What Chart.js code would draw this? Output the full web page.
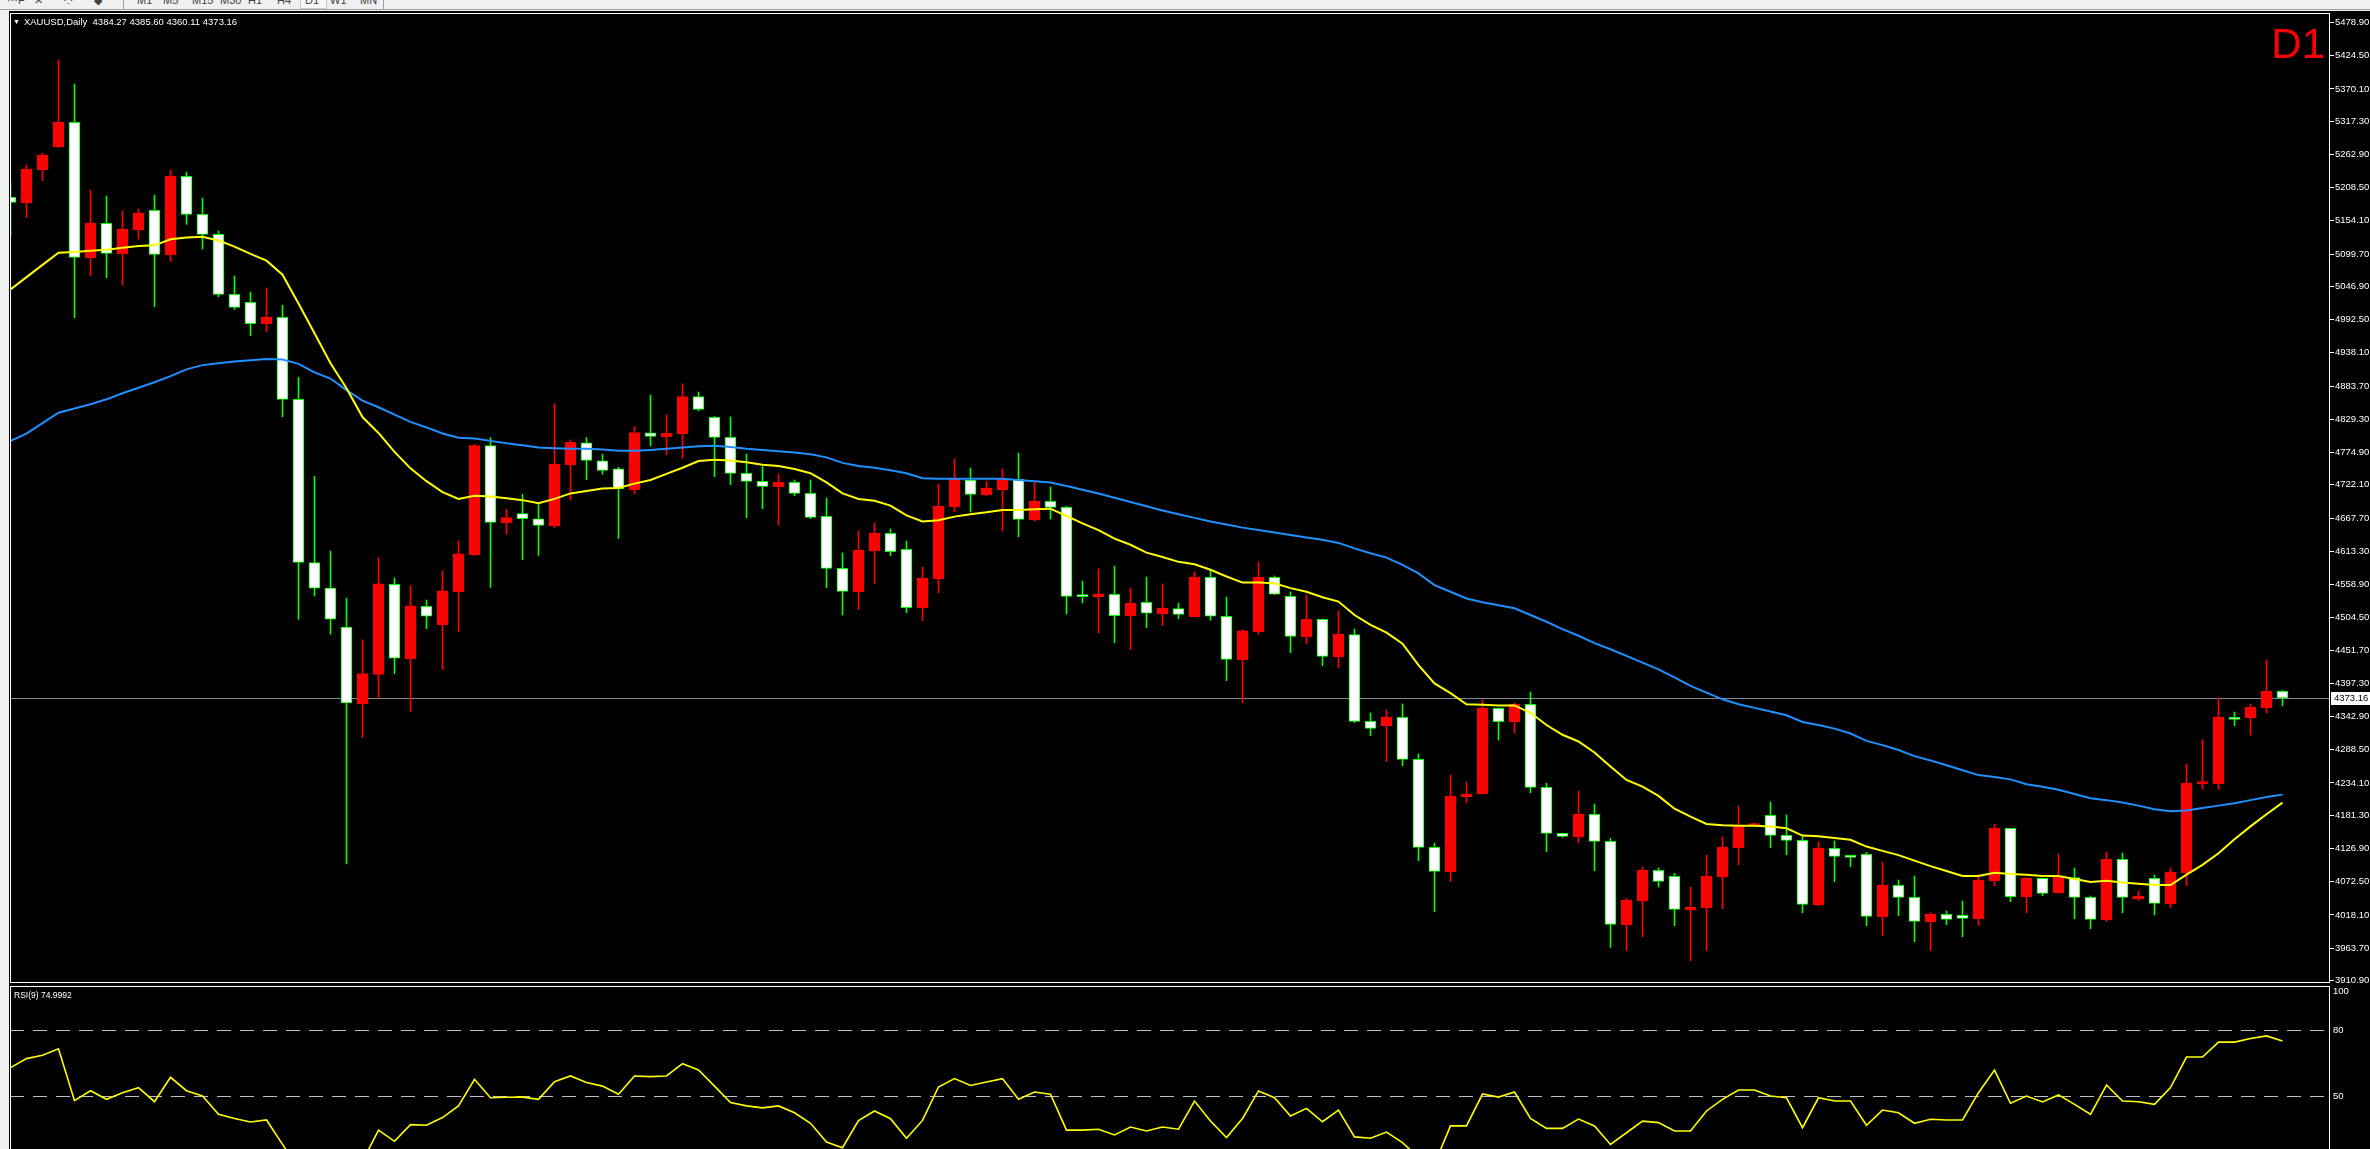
<!DOCTYPE html>
<html>
<head>
<meta charset="utf-8">
<title>XAUUSD,Daily</title>
<script src="https://cdn.jsdelivr.net/npm/chart.js@4.4.1/dist/chart.umd.min.js"></script>
<style>
  html, body { margin:0; padding:0; width:2370px; height:1149px; overflow:hidden; background:#f0f0f0;
               font-family:"Liberation Sans", Arial, sans-serif; }
  #toolbar { position:absolute; left:0; top:0; width:2370px; height:9px; overflow:hidden;
             background:#f0f0f0; border-bottom:1px solid #a0a0a0; }
  #toolbar span { position:absolute; top:-6px; font-size:11px; color:#404040; }
  #toolbar .pressed { top:-4px; height:11px; border:1px solid #c8c8c8; background:#f8f8f8; }
  #toolbar .sep { top:0; width:1px; height:9px; background:#a0a0a0; }
  #screen { position:absolute; left:9px; top:11px; width:2361px; height:1138px; background:#000; }
  #priceBox { position:absolute; left:10px; top:0; width:2360px; height:990px; }
  #rsiBox   { position:absolute; left:10px; top:976px; width:2360px; height:240px; }
  .txt { position:absolute; color:#ffffff; white-space:pre; }
  #header { left:13px; top:16px; font-size:9.5px; line-height:12px; }
  #header .tri { font-size:7px; vertical-align:1px; margin-right:4px; }
  #period { right:45px; top:23px; font-size:42px; line-height:42px; color:#ff0000; }
  #rsiTitle { left:14px; top:990px; font-size:8.5px; line-height:10px; }
</style>
</head>
<body>
<div id="toolbar">
  <span style="left:7px">···F</span>
  <span style="left:34px">✕</span>
  <span style="left:63px">·:·</span>
  <span style="left:94px">◆</span>
  <span class="sep" style="left:123px"></span>
  <span style="left:137px">M1</span>
  <span style="left:163px">M5</span>
  <span style="left:192px">M15</span>
  <span style="left:220px">M30</span>
  <span style="left:248px">H1</span>
  <span style="left:277px">H4</span>
  <span class="pressed" style="left:300px;width:25px"></span>
  <span style="left:305px">D1</span>
  <span style="left:330px">W1</span>
  <span style="left:360px">MN</span>
  <span class="sep" style="left:383px"></span>
</div>
<div id="screen"></div>
<div id="priceBox"><canvas id="priceChart"></canvas></div>
<div id="rsiBox"><canvas id="rsiChart"></canvas></div>
<div id="header" class="txt"></div>
<div id="period" class="txt">D1</div>
<div id="rsiTitle" class="txt">RSI(9) 74.9992</div>

<script>
// ── Daily candles (index 0 = oldest visible bar) ─────────────
const opens = [
  5192.6, 5183.3, 5237.9, 5275.0, 5315.3, 5093.8, 5150.0, 5100.4, 5139.7, 5171.3,
  5098.2, 5226.9, 5164.8, 5132.0, 5033.8, 5020.7, 4985.8, 4996.2, 4861.9, 4594.9,
  4553.0, 4489.1, 4364.0, 4411.7, 4559.4, 4437.5, 4523.3, 4493.0, 4547.2, 4607.8,
  4786.4, 4660.0, 4674.9, 4666.5, 4654.9, 4754.8, 4791.0, 4761.3, 4748.4, 4714.2,
  4807.1, 4800.6, 4805.2, 4866.4, 4832.5, 4799.8, 4740.9, 4727.8, 4719.0, 4726.1,
  4708.1, 4670.5, 4585.4, 4547.2, 4613.7, 4642.7, 4616.5, 4521.0, 4567.9, 4686.3,
  4730.0, 4705.9, 4714.1, 4731.0, 4664.5, 4695.0, 4685.2, 4540.1, 4538.4, 4542.9,
  4507.9, 4529.8, 4511.2, 4519.4, 4506.3, 4570.7, 4506.9, 4436.0, 4481.8, 4570.7,
  4539.6, 4473.6, 4501.9, 4440.8, 4476.9, 4335.0, 4327.9, 4341.5, 4272.8, 4128.8,
  4089.0, 4211.7, 4216.1, 4356.3, 4333.9, 4362.8, 4226.9, 4151.7, 4146.2, 4182.8,
  4138.6, 4001.6, 4040.9, 4091.1, 4081.3, 4026.7, 4030.0, 4080.2, 4128.2, 4164.2,
  4181.1, 4148.4, 4140.2, 4034.3, 4127.1, 4113.5, 4117.3, 4015.3, 4066.5, 4046.9,
  4007.1, 4019.1, 4017.4, 4012.0, 4074.2, 4159.8, 4048.0, 4078.0, 4054.5, 4079.1,
  4046.9, 4010.4, 4109.1, 4044.7, 4078.0, 4036.5, 4087.3, 4233.0, 4232.9, 4341.0,
  4341.0, 4357.3, 4384.27
];
const highs = [
  5218.2, 5245.5, 5265.1, 5417.4, 5378.1, 5204.6, 5194.8, 5170.2, 5173.5, 5196.4,
  5237.3, 5234.0, 5191.5, 5137.5, 5063.8, 5037.6, 5044.2, 5015.8, 4897.7, 4736.1,
  4613.6, 4536.8, 4468.5, 4602.6, 4569.7, 4556.8, 4533.6, 4581.3, 4630.4, 4788.4,
  4799.4, 4682.0, 4706.5, 4689.7, 4854.8, 4795.5, 4799.4, 4772.3, 4751.0, 4817.4,
  4869.0, 4836.8, 4887.7, 4874.0, 4834.0, 4833.1, 4772.5, 4751.8, 4739.8, 4730.0,
  4730.0, 4700.5, 4610.5, 4646.5, 4659.6, 4649.8, 4630.1, 4587.6, 4723.4, 4764.3,
  4749.6, 4727.8, 4748.0, 4774.1, 4725.6, 4718.5, 4686.9, 4564.6, 4584.3, 4589.2,
  4553.2, 4571.2, 4559.8, 4528.7, 4579.4, 4581.6, 4538.5, 4485.0, 4595.8, 4572.9,
  4546.7, 4541.8, 4502.5, 4515.6, 4486.1, 4348.6, 4353.5, 4363.4, 4281.5, 4135.8,
  4247.2, 4235.7, 4369.9, 4357.0, 4365.0, 4383.0, 4233.5, 4152.0, 4220.9, 4199.7,
  4143.5, 4044.7, 4096.5, 4094.9, 4086.2, 4063.8, 4116.2, 4145.7, 4196.4, 4168.6,
  4203.0, 4181.7, 4146.2, 4137.5, 4139.1, 4116.2, 4120.6, 4104.7, 4075.3, 4081.8,
  4021.8, 4024.5, 4040.9, 4084.5, 4166.9, 4160.0, 4079.0, 4078.2, 4117.8, 4094.9,
  4049.1, 4121.1, 4119.5, 4057.3, 4083.5, 4094.9, 4265.1, 4304.9, 4373.2, 4350.2,
  4363.3, 4435.4, 4385.60
];
const lows = [
  5129.8, 5159.3, 5219.9, 5273.9, 4995.6, 5064.4, 5061.1, 5049.1, 5124.4, 5013.6,
  5087.3, 5148.4, 5108.0, 5030.0, 5009.2, 4966.2, 4972.7, 4833.6, 4502.0, 4540.1,
  4477.5, 4101.5, 4307.9, 4373.0, 4413.0, 4351.1, 4486.5, 4419.4, 4481.4, 4606.5,
  4554.3, 4641.3, 4599.4, 4606.5, 4651.6, 4697.4, 4730.3, 4739.4, 4634.2, 4707.1,
  4785.8, 4771.0, 4765.8, 4843.0, 4735.4, 4722.3, 4668.3, 4683.0, 4656.3, 4704.3,
  4666.7, 4553.7, 4509.0, 4517.7, 4560.3, 4606.1, 4512.8, 4499.7, 4545.5, 4678.1,
  4677.6, 4704.3, 4646.5, 4637.2, 4662.8, 4666.1, 4510.6, 4528.6, 4479.5, 4463.5,
  4452.3, 4488.3, 4491.6, 4503.0, 4506.0, 4500.3, 4401.6, 4365.6, 4476.9, 4542.5,
  4447.4, 4462.1, 4426.1, 4422.8, 4332.8, 4311.5, 4269.0, 4262.4, 4106.9, 4023.5,
  4072.6, 4201.3, 4216.0, 4304.4, 4315.9, 4218.2, 4121.6, 4145.1, 4136.4, 4090.5,
  3965.1, 3959.6, 3982.5, 4063.8, 4000.5, 3943.2, 3959.6, 4028.4, 4100.4, 4164.0,
  4128.2, 4116.7, 4021.8, 4033.2, 4072.5, 4097.1, 4000.5, 3984.2, 4016.9, 3974.3,
  3959.6, 4002.2, 3982.5, 4000.5, 4066.0, 4039.8, 4021.8, 4049.6, 4054.0, 4012.0,
  3995.6, 4007.1, 4021.8, 4041.4, 4018.0, 4030.0, 4066.0, 4224.2, 4223.1, 4327.9,
  4312.6, 4348.6, 4360.11
];
const closes = [
  5184.4, 5239.0, 5261.9, 5315.9, 5094.4, 5150.6, 5100.9, 5140.7, 5166.9, 5099.3,
  5227.5, 5164.8, 5132.0, 5033.8, 5012.5, 4985.8, 4996.7, 4862.0, 4594.9, 4553.0,
  4502.0, 4365.3, 4413.0, 4560.1, 4438.2, 4523.9, 4507.2, 4548.4, 4609.1, 4786.4,
  4660.7, 4668.4, 4666.5, 4655.5, 4755.5, 4791.6, 4761.9, 4745.8, 4715.5, 4807.7,
  4801.3, 4806.4, 4866.4, 4845.4, 4799.8, 4740.9, 4727.8, 4719.6, 4726.7, 4708.1,
  4668.8, 4585.4, 4547.7, 4615.4, 4643.2, 4612.6, 4521.0, 4569.5, 4687.4, 4731.0,
  4706.5, 4716.9, 4731.0, 4665.6, 4695.6, 4685.2, 4539.5, 4539.0, 4543.4, 4507.9,
  4528.7, 4511.8, 4520.0, 4510.1, 4571.2, 4506.9, 4436.5, 4482.9, 4571.2, 4542.9,
  4474.1, 4501.9, 4441.4, 4477.4, 4335.0, 4323.5, 4341.5, 4272.8, 4128.8, 4089.5,
  4212.8, 4216.1, 4356.8, 4334.5, 4362.8, 4226.9, 4151.7, 4146.7, 4183.3, 4138.6,
  4002.7, 4042.5, 4091.6, 4073.1, 4027.3, 4031.1, 4081.8, 4129.3, 4164.2, 4167.5,
  4148.4, 4140.2, 4035.4, 4127.6, 4114.0, 4112.4, 4015.8, 4066.5, 4046.9, 4007.6,
  4019.6, 4010.9, 4012.5, 4075.3, 4160.4, 4048.0, 4078.5, 4053.4, 4080.7, 4046.9,
  4010.9, 4109.6, 4046.9, 4049.1, 4037.1, 4088.4, 4234.0, 4234.0, 4342.1, 4338.2,
  4358.4, 4384.6, 4373.16
];

// ── Moving averages (yellow fast, blue slow) ──
const maFast = [
  5042, 5062, 5082, 5102, 5103, 5105, 5107, 5110, 5113, 5114,
  5124, 5127, 5128, 5122, 5112, 5100, 5089, 5066, 5019, 4970,
  4921, 4880, 4833, 4807, 4776, 4749, 4728, 4710, 4699, 4704,
  4703, 4700, 4697, 4692, 4699, 4708, 4712, 4716, 4717, 4724,
  4730, 4740, 4750, 4761, 4763, 4762, 4759, 4755, 4753, 4748,
  4741, 4726, 4708, 4699, 4696, 4688, 4672, 4662, 4664, 4670,
  4674, 4677, 4681, 4681, 4682, 4683, 4671, 4659, 4648, 4634,
  4624, 4611, 4604, 4596, 4592, 4583, 4572, 4562, 4562, 4561,
  4553, 4547, 4538, 4531, 4509, 4493, 4480, 4462, 4427, 4397,
  4381, 4363, 4362, 4361, 4361, 4349, 4329, 4313, 4302, 4284,
  4261, 4239, 4228, 4213, 4192, 4179, 4167, 4165, 4164, 4164,
  4163, 4160, 4148, 4147, 4144, 4141, 4130, 4123, 4116, 4107,
  4098, 4090, 4082, 4082, 4087, 4085, 4084, 4082, 4082, 4077,
  4072, 4074, 4071, 4069, 4067, 4067, 4084, 4100, 4119, 4142,
  4163, 4183, 4202
];
const maSlow = [
  4794, 4806, 4823, 4840, 4847, 4854, 4862, 4872, 4881, 4890,
  4900, 4911, 4918, 4921, 4924, 4926, 4928, 4927, 4920, 4906,
  4896, 4877, 4860, 4849, 4837, 4825, 4816, 4806, 4799, 4798,
  4794, 4790, 4787, 4783, 4782, 4781, 4781, 4780, 4778, 4778,
  4779, 4781, 4783, 4785, 4786, 4784, 4781, 4779, 4777, 4775,
  4772, 4767, 4758, 4753, 4750, 4746, 4741, 4733, 4732, 4732,
  4732, 4732, 4732, 4730, 4728, 4726, 4720, 4714, 4708, 4701,
  4694, 4687, 4680, 4674, 4668, 4662, 4657, 4652, 4648, 4644,
  4640, 4636, 4632, 4627, 4618, 4610, 4603, 4591, 4577, 4558,
  4547, 4536, 4530, 4525, 4520, 4509, 4498, 4486, 4475, 4463,
  4453, 4442, 4431, 4420, 4407, 4393, 4382, 4371, 4363, 4357,
  4351, 4345, 4334, 4329, 4323, 4315, 4303, 4296, 4288, 4278,
  4271, 4263, 4255, 4247, 4244, 4240, 4232, 4228, 4223, 4216,
  4209, 4206, 4202, 4197, 4191, 4188, 4189, 4193, 4197, 4201,
  4206, 4211, 4215
];

// ── RSI(9) ──────────────────────────────────────
const rsi = [
  62.9, 67.0, 68.5, 71.5, 47.9, 52.4, 48.5, 51.5, 53.8, 47.4,
  58.5, 52.4, 50.0, 41.7, 39.8, 38.2, 39.1, 28.0, 17.0, 15.0,
  13.0, 11.0, 20.3, 34.5, 29.4, 37.0, 36.7, 40.2, 45.5, 57.6,
  49.2, 49.4, 49.5, 48.5, 56.5, 59.1, 56.1, 54.5, 50.8, 59.1,
  58.8, 59.1, 64.7, 61.8, 54.5, 47.0, 45.5, 44.6, 45.5, 42.4,
  37.6, 29.1, 26.5, 38.8, 43.2, 39.7, 30.8, 38.9, 54.1, 57.9,
  54.8, 56.4, 57.9, 48.5, 51.8, 50.8, 34.5, 34.5, 34.9, 32.3,
  35.9, 34.1, 35.9, 34.9, 47.7, 38.6, 31.1, 39.8, 52.3, 49.2,
  40.9, 44.4, 38.3, 43.6, 31.4, 30.8, 33.6, 28.8, 22.0, 19.1,
  36.4, 36.4, 50.9, 49.5, 51.8, 39.8, 35.3, 35.3, 39.5, 36.4,
  28.0, 33.3, 38.6, 37.9, 34.1, 34.1, 43.2, 48.5, 52.7, 52.7,
  50.0, 49.2, 35.6, 49.2, 47.7, 47.7, 36.7, 43.6, 42.4, 37.6,
  39.4, 39.1, 39.1, 51.5, 61.8, 46.7, 50.0, 47.3, 50.5, 46.2,
  41.7, 55.0, 47.7, 47.4, 46.2, 53.8, 67.7, 67.7, 74.5, 74.5,
  76.1, 77.3, 75.0
];

// ── Axis labels ────────────────────────────────
const priceTicks = [
  5478.90, 5424.50, 5370.10, 5317.30, 5262.90, 5208.50, 5154.10, 5099.70, 5046.90, 4992.50,
  4938.10, 4883.70, 4829.30, 4774.90, 4722.10, 4667.70, 4613.30, 4558.90, 4504.50, 4451.70,
  4397.30, 4342.90, 4288.50, 4234.10, 4181.30, 4126.90, 4072.50, 4018.10, 3963.70, 3910.90
];
const rsiTicks  = [100, 80, 50];
const rsiLevels = [80, 50];

// ── Header text ────────────────────────────────
const last = closes.length - 1;
document.getElementById('header').innerHTML =
  '<span class="tri">▼</span>XAUUSD,Daily  ' +
  [opens[last], highs[last], lows[last], closes[last]].map(v => v.toFixed(2)).join(' ');

// ── Shared bits ────────────────────────────────
Chart.defaults.font.family = '"Liberation Sans", Arial, sans-serif';
const AXIS_FONT = { size: 9.5 };
const X_MIN = -0.03125;
const X_MAX = X_MIN + 2320 / 16;
const idx = opens.map((_, i) => i);
const isUp = idx.map(i => closes[i] >= opens[i]);

const framePlugin = {
  id: 'frame',
  afterDraw(chart) {
    const { ctx, chartArea: a } = chart;
    ctx.save();
    ctx.strokeStyle = '#ffffff';
    ctx.lineWidth = 1;
    ctx.strokeRect(a.left + 0.5, a.top + 0.5, a.right - a.left - 1, a.bottom - a.top - 1);
    ctx.restore();
  }
};

const lastPricePlugin = {
  id: 'lastPrice',
  beforeDatasetsDraw(chart) {
    const { ctx, chartArea: a, scales } = chart;
    const y = Math.round(scales.y.getPixelForValue(closes[last])) + 0.5;
    ctx.save();
    ctx.strokeStyle = '#7f8a99';
    ctx.lineWidth = 1;
    ctx.beginPath();
    ctx.moveTo(a.left, y);
    ctx.lineTo(a.right, y);
    ctx.stroke();
    ctx.restore();
  },
  afterDraw(chart) {
    const { ctx, chartArea: a, scales } = chart;
    const y = Math.round(scales.y.getPixelForValue(closes[last]));
    ctx.save();
    ctx.fillStyle = '#ffffff';
    ctx.fillRect(a.right + 1, y - 6, chart.width - a.right - 1, 13);
    ctx.fillStyle = '#000000';
    ctx.font = '9.5px "Liberation Sans", Arial, sans-serif';
    ctx.textBaseline = 'middle';
    ctx.fillText(closes[last].toFixed(2), a.right + 4, y + 0.5);
    ctx.restore();
  }
};

const levelsPlugin = {
  id: 'levels',
  beforeDatasetsDraw(chart) {
    const { ctx, chartArea: a, scales } = chart;
    ctx.save();
    ctx.strokeStyle = '#c0c0c0';
    ctx.lineWidth = 1;
    ctx.setLineDash([14, 9]);
    rsiLevels.forEach(v => {
      const y = Math.round(scales.y.getPixelForValue(v)) + 0.5;
      ctx.beginPath();
      ctx.moveTo(a.left, y);
      ctx.lineTo(a.right, y);
      ctx.stroke();
    });
    ctx.restore();
  }
};

// ── Price chart ────────────────────────────────
new Chart(document.getElementById('priceChart'), {
  type: 'bar',
  data: {
    datasets: [
      {
        type: 'line', label: 'MA fast', order: 0,
        data: idx.map(i => ({ x: i, y: maFast[i] })),
        borderColor: '#ffff00', borderWidth: 2, pointRadius: 0, tension: 0
      },
      {
        type: 'line', label: 'MA slow', order: 0,
        data: idx.map(i => ({ x: i, y: maSlow[i] })),
        borderColor: '#1e90ff', borderWidth: 2, pointRadius: 0, tension: 0
      },
      {
        label: 'body', order: 1, grouped: false,
        data: idx.map(i => ({ x: i, y: [opens[i], closes[i]] })),
        backgroundColor: idx.map(i => isUp[i] ? '#ff0000' : '#ffffff'),
        borderColor: idx.map(i => isUp[i] ? '#ff0000' : '#00ff00'),
        borderWidth: 1, borderSkipped: false, barThickness: 11, minBarLength: 2
      },
      {
        label: 'wick', order: 2, grouped: false,
        data: idx.map(i => ({ x: i, y: [lows[i], highs[i]] })),
        backgroundColor: idx.map(i => isUp[i] ? '#ff0000' : '#00ff00'),
        borderWidth: 0, barThickness: 1
      }
    ]
  },
  options: {
    responsive: true,
    maintainAspectRatio: false,
    animation: false,
    events: [],
    layout: { padding: { top: 13, bottom: 7, left: 0, right: 0 } },
    plugins: { legend: { display: false }, tooltip: { enabled: false } },
    scales: {
      x: { type: 'linear', min: X_MIN, max: X_MAX, offset: false, display: false },
      y: {
        position: 'right',
        min: 3906.7,
        max: 5494.3,
        beginAtZero: false,
        afterBuildTicks: s => { s.ticks = priceTicks.map(v => ({ value: v })); },
        afterFit: s => { s.width = 40; s.paddingTop = 0; s.paddingBottom = 0; },
        ticks: {
          color: '#ffffff', font: AXIS_FONT, padding: 1, autoSkip: false,
          callback: v => v.toFixed(2)
        },
        grid: { drawOnChartArea: false, drawTicks: true, tickLength: 4, tickColor: '#ffffff' },
        border: { display: false }
      }
    }
  },
  plugins: [lastPricePlugin, framePlugin]
});

// ── RSI chart ──────────────────────────────────
new Chart(document.getElementById('rsiChart'), {
  type: 'line',
  data: {
    datasets: [{
      label: 'RSI(9)',
      data: idx.map(i => ({ x: i, y: rsi[i] })),
      borderColor: '#ffff00', borderWidth: 1.6, pointRadius: 0, tension: 0
    }]
  },
  options: {
    responsive: true,
    maintainAspectRatio: false,
    animation: false,
    events: [],
    layout: { padding: { top: 10, bottom: 10, left: 0, right: 0 } },
    plugins: { legend: { display: false }, tooltip: { enabled: false } },
    scales: {
      x: { type: 'linear', min: X_MIN, max: X_MAX, offset: false, display: false },
      y: {
        position: 'right',
        min: 0,
        max: 100,
        afterBuildTicks: s => { s.ticks = rsiTicks.map(v => ({ value: v })); },
        afterFit: s => { s.width = 40; s.paddingTop = 0; s.paddingBottom = 0; },
        ticks: {
          color: '#ffffff', font: AXIS_FONT, padding: 3, autoSkip: false,
          // top label sits just inside the panel, as in the terminal
          callback: v => v === 100 ? ['', '100'] : String(v)
        },
        grid: { drawOnChartArea: false, drawTicks: false },
        border: { display: false }
      }
    }
  },
  plugins: [levelsPlugin, framePlugin]
});
</script>
</body>
</html>
